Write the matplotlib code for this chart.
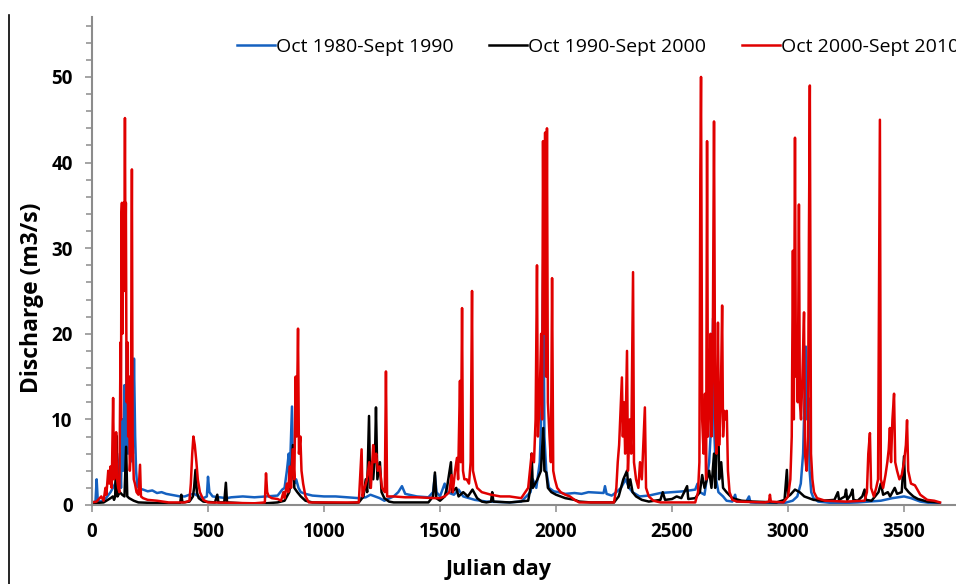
import matplotlib
matplotlib.use("Agg")
import matplotlib.pyplot as plt
import matplotlib.ticker as ticker
from matplotlib.lines import Line2D

# Daily discharge (day, m3/s) for each decade
blue_day = [0, 15, 20, 25, 40, 60, 80, 100, 110, 120, 125, 130, 135, 140, 145, 150, 155, 160, 165, 170,
            176, 181, 186, 190, 195, 205, 220, 240, 260, 280, 300, 320, 340, 360, 380, 400, 420, 440, 460,
            480, 495, 500, 506, 520, 550, 580, 600, 650, 700, 750, 800, 820, 830, 840, 848, 852, 862, 866,
            872, 880, 890, 900, 920, 950, 1000, 1050, 1100, 1150, 1180, 1200, 1220, 1240, 1260, 1300, 1320,
            1336, 1345, 1350, 1400, 1450, 1470, 1478, 1485, 1500, 1520, 1530, 1560, 1580, 1600, 1650, 1700,
            1800, 1850, 1890, 1900, 1915, 1930, 1938, 1945, 1950, 1958, 1970, 1990, 2010, 2040, 2080, 2110,
            2140, 2205, 2211, 2218, 2240, 2260, 2280, 2300, 2315, 2330, 2360, 2400, 2450, 2500, 2550, 2600,
            2610, 2620, 2640, 2660, 2670, 2677, 2683, 2690, 2700, 2720, 2735, 2760, 2772, 2778, 2820, 2832,
            2838, 2900, 2980, 3020, 3040, 3055, 3065, 3077, 3082, 3088, 3093, 3100, 3110, 3130, 3200, 3300,
            3400, 3450, 3500, 3530, 3570, 3620, 3655]
blue_q = [0.3, 0.4, 3.0, 0.5, 0.4, 0.8, 1.5, 2.5, 3.0, 6.0, 2.0, 10.0, 4.0, 14.0, 5.0, 19.0, 6.0, 12.0, 5.0, 10.0,
          6.0, 17.1, 8.0, 4.0, 2.2, 1.9, 1.8, 1.6, 1.7, 1.4, 1.5, 1.3, 1.2, 1.1, 1.0, 1.0, 1.2, 1.3, 1.0,
          0.8, 1.0, 3.3, 1.5, 1.0, 0.9, 0.8, 0.9, 1.0, 0.9, 1.0, 1.1, 1.8, 2.0, 4.0, 6.0, 3.0, 11.5, 4.0,
          2.5, 3.0, 2.0, 1.5, 1.3, 1.1, 1.0, 1.0, 0.9, 0.8, 0.9, 1.2, 1.0, 0.8, 0.5, 1.0, 1.5,
          2.2, 1.6, 1.3, 1.0, 0.9, 1.5, 3.5, 1.5, 1.0, 2.5, 1.5, 1.2, 1.8, 1.0, 0.6, 0.4,
          0.3, 0.4, 1.5, 3.0, 2.0, 5.0, 12.0, 29.0, 8.0, 4.0, 2.0, 1.6, 1.5, 1.3, 1.4, 1.3,
          1.5, 1.4, 2.2, 1.3, 1.1, 1.5, 2.0, 3.0, 2.0, 1.5, 1.0, 1.1, 1.4, 1.5, 1.6, 1.8,
          2.5, 1.5, 1.2, 5.0, 10.0, 21.8, 8.0, 3.0, 1.5, 1.0, 0.5, 0.4, 1.2, 0.4, 0.4, 1.0,
          0.3, 0.2, 0.2, 0.5, 1.0, 2.5, 6.0, 18.5, 10.0, 12.5, 4.0, 1.5, 0.8, 0.4, 0.2, 0.3,
          0.5, 0.8, 1.0, 0.8, 0.4, 0.2, 0.2]

black_day = [0, 50, 80, 90, 95, 100, 105, 110, 120, 130, 140, 147, 152, 160, 180, 200, 300, 380, 385, 390,
             420, 435, 440, 446, 452, 460, 480, 530, 540, 545, 570, 577, 582, 650, 750, 800, 830, 850, 858,
             866, 872, 885, 900, 920, 950, 1100, 1150, 1170, 1180, 1186, 1194, 1199, 1205, 1212, 1220, 1224,
             1230, 1241, 1248, 1260, 1280, 1300, 1450, 1470, 1478, 1484, 1500, 1520, 1530, 1547, 1552, 1570,
             1580, 1600, 1620, 1640, 1660, 1680, 1700, 1720, 1725, 1730, 1800, 1880, 1890, 1895, 1900, 1920,
             1935, 1945, 1950, 1958, 1965, 1980, 2000, 2020, 2040, 2060, 2080, 2100, 2150, 2250, 2270, 2290,
             2306, 2312, 2320, 2330, 2345, 2370, 2400, 2450, 2460, 2470, 2500, 2520, 2540, 2565, 2570, 2600,
             2620, 2630, 2640, 2660, 2670, 2681, 2686, 2698, 2703, 2712, 2720, 2735, 2760, 2800, 2850, 2950,
             2985, 2995, 3000, 3010, 3030, 3050, 3070, 3090, 3110, 3150, 3200, 3215, 3220, 3245, 3250, 3255,
             3270, 3278, 3282, 3300, 3320, 3330, 3335, 3360, 3390, 3400, 3410, 3430, 3440, 3460, 3470, 3490,
             3500, 3505, 3520, 3540, 3560, 3600, 3650]
black_q = [0.2, 0.3, 0.8, 1.0, 0.6, 1.0, 8.1, 1.0, 1.5, 1.2, 1.0, 6.8, 1.0, 0.8, 0.5, 0.3, 0.2, 0.2, 1.2, 0.3,
           0.4, 1.0, 2.0, 4.1, 1.5, 0.8, 0.4, 0.3, 1.2, 0.3, 0.3, 2.6, 0.3, 0.2, 0.2, 0.3, 0.5, 1.5, 3.0,
           7.0, 2.0, 1.5, 1.0, 0.5, 0.3, 0.2, 0.3, 1.0, 3.0, 1.5, 10.4, 2.0, 5.0, 3.0, 6.0, 11.4,
           3.0, 5.0, 1.5, 0.8, 0.4, 0.3, 0.3, 1.0, 3.8, 0.8, 0.5, 1.0, 2.0, 5.0, 1.5, 2.0,
           1.0, 1.5, 1.0, 1.8, 0.8, 0.4, 0.3, 0.4, 1.5, 0.4, 0.3, 0.5, 2.0, 6.0, 2.0, 3.0,
           4.0, 9.0, 4.0, 3.8, 2.0, 1.5, 1.2, 1.0, 0.8, 0.7, 0.6, 0.4, 0.3, 0.3, 1.0, 3.0,
           4.0, 2.0, 3.0, 1.5, 1.0, 0.6, 0.4, 0.6, 1.5, 0.6, 0.7, 1.0, 0.8, 2.2, 0.7, 0.8,
           1.5, 3.5, 2.0, 4.0, 2.0, 6.0, 2.0, 13.0, 3.0, 5.0, 2.0, 1.5, 0.8, 0.5, 0.4, 0.3,
           0.6, 4.1, 1.0, 1.2, 1.8, 1.5, 1.0, 0.8, 0.6, 0.5, 0.6, 1.5, 0.6, 1.0, 1.8, 0.6,
           1.2, 1.8, 0.6, 0.5, 1.0, 1.8, 0.6, 0.5, 1.5, 2.5, 1.2, 1.5, 1.0, 2.0, 1.3, 1.5,
           5.7, 2.0, 1.5, 1.0, 0.7, 0.4, 0.3]

red_day = [0, 20, 40, 50, 58, 62, 70, 75, 80, 85, 91, 95, 100, 104, 108, 113, 118, 123, 125, 127,
           129, 131, 133, 135, 137, 139, 142, 144, 146, 148, 150, 153, 156, 160, 163, 167, 172, 175, 180, 185,
           192, 200, 207, 211, 220, 240, 280, 330, 400, 420, 426, 432, 437, 443, 450, 456, 465, 480, 500,
           700, 745, 750, 755, 762, 775, 800, 815, 825, 830, 840, 846, 852, 858, 865, 872, 878, 882, 888,
           892, 898, 903, 910, 920, 935, 1150, 1162, 1166, 1175, 1185, 1195, 1202, 1212, 1218, 1225, 1232,
           1240, 1250, 1262, 1267, 1272, 1285, 1300, 1350, 1400, 1480, 1500, 1520, 1540, 1550, 1555, 1565,
           1573, 1578, 1586, 1590, 1595, 1599, 1605, 1615, 1625, 1632, 1638, 1642, 1650, 1660, 1680, 1720,
           1760, 1800, 1850, 1880, 1895, 1905, 1912, 1918, 1922, 1930, 1936, 1940, 1944, 1948, 1953, 1957,
           1961, 1965, 1972, 1978, 1983, 1988, 1995, 2005, 2020, 2040, 2060, 2080, 2100, 2250, 2260, 2266,
           2272, 2278, 2284, 2288, 2293, 2298, 2306, 2310, 2318, 2324, 2332, 2336, 2345, 2355, 2362, 2370,
           2383, 2388, 2400, 2420, 2450, 2600, 2612, 2618, 2622, 2625, 2630, 2636, 2642, 2647, 2651, 2655,
           2660, 2666, 2670, 2675, 2681, 2686, 2692, 2698, 2703, 2710, 2716, 2720, 2725, 2730, 2736, 2741,
           2748, 2760, 2780, 2900, 2918, 2922, 2926, 2980, 3000, 3010, 3016, 3021, 3025, 3030, 3034, 3039,
           3042, 3047, 3051, 3056, 3062, 3069, 3073, 3080, 3086, 3090, 3094, 3099, 3105, 3112, 3125, 3160,
           3250, 3330, 3340, 3346, 3353, 3358, 3370, 3380, 3388, 3396, 3400, 3410, 3420, 3428, 3434, 3439,
           3444, 3450, 3457, 3462, 3470, 3480, 3490, 3500, 3508, 3513, 3518, 3530, 3547, 3570, 3600, 3630,
           3655]
red_q = [0.3, 0.4, 1.0, 0.5, 2.0, 1.2, 4.0, 2.5, 4.5, 2.0, 12.5, 3.0, 4.0, 8.5, 3.0, 2.0, 1.5, 19.0, 10.0, 34.0,
         35.3, 20.0, 35.0, 30.0, 35.3, 25.0, 45.2, 30.0, 35.3, 20.0, 12.0, 19.0, 8.0, 15.0, 4.0, 6.0, 39.2, 8.0, 3.0, 2.5,
         1.5, 1.2, 4.7, 1.0, 0.8, 0.6, 0.5, 0.3, 0.3, 0.5, 2.5, 6.0, 8.0, 7.0, 5.0, 3.0, 1.5, 0.6, 0.3,
         0.2, 0.3, 3.7, 1.5, 1.0, 0.8, 0.7, 0.5, 1.5, 0.8, 2.5, 1.5, 4.5, 2.0, 6.5, 3.0, 15.0, 8.0, 20.6,
         6.0, 8.0, 4.0, 2.5, 1.0, 0.3, 0.3, 6.5, 1.0, 2.0, 3.0, 5.0, 2.0, 7.0, 5.0, 6.0, 4.0,
         4.5, 2.0, 1.5, 15.6, 1.0, 1.0, 1.0, 0.9, 0.9, 0.8, 0.8, 1.0, 1.5, 3.5, 1.5, 4.0,
         5.5, 3.0, 14.5, 5.0, 23.0, 4.0, 3.0, 3.0, 2.5, 5.0, 25.0, 4.0, 3.0, 2.0, 1.5, 1.2,
         1.0, 1.0, 0.8, 2.0, 6.0, 5.0, 10.0, 28.0, 8.0, 13.0, 20.0, 10.0, 42.5, 20.0, 43.5, 15.0,
         44.0, 12.0, 8.0, 5.0, 26.5, 4.0, 3.0, 2.0, 1.5, 1.2, 1.0, 0.6, 0.3, 0.3, 2.0, 5.0,
         7.0, 11.0, 14.9, 8.0, 12.0, 6.0, 18.0, 4.0, 10.0, 6.0, 27.2, 5.0, 3.0, 2.0, 5.0, 3.0,
         11.4, 2.0, 1.0, 0.5, 0.3, 0.3, 1.5, 5.0, 38.5, 50.0, 10.0, 6.0, 13.0, 3.0, 42.5, 8.0,
         12.0, 20.0, 8.0, 15.0, 44.8, 10.0, 6.0, 21.3, 7.0, 12.0, 23.3, 8.0, 11.0, 10.0, 11.0, 4.0,
         1.5, 0.6, 0.4, 0.3, 0.4, 1.2, 0.4, 0.3, 1.0, 3.0, 8.0, 29.7, 10.0, 42.9, 15.0, 20.0,
         12.0, 35.1, 12.0, 10.0, 15.0, 22.5, 6.0, 4.0, 8.0, 31.0, 49.0, 6.0, 3.0, 1.5, 0.8, 0.5,
         0.4, 0.5, 1.5, 6.0, 8.4, 2.0, 1.0, 2.0, 3.0, 45.0, 3.0, 2.0, 3.5, 5.0, 6.5, 9.0,
         5.0, 10.0, 13.0, 5.0, 4.0, 3.0, 3.5, 5.0, 7.0, 9.9, 4.0, 2.5, 2.3, 1.2, 0.6, 0.5,
         0.3]

labels = ['Oct 1980-Sept 1990', 'Oct 1990-Sept 2000', 'Oct 2000-Sept 2010']
colors = ['#1561c0', '#000000', '#e00000']

fig = plt.figure(figsize=(9.56, 5.84), dpi=100)
ax = fig.add_axes([92 / 956, 79 / 584, 1 - 92 / 956, 488 / 584])

ax.plot(blue_day, blue_q, color=colors[0], lw=1.8, label=labels[0])
ax.plot(black_day, black_q, color=colors[1], lw=1.8, label=labels[1])
ax.plot(red_day, red_q, color=colors[2], lw=1.8, label=labels[2])

ax.set_xlim(0, 3724)
ax.set_ylim(0, 57)
ax.xaxis.set_major_locator(ticker.MultipleLocator(500))
ax.yaxis.set_major_locator(ticker.MultipleLocator(10))
ax.yaxis.set_minor_locator(ticker.MultipleLocator(2))

for side in ['top', 'right']:
    ax.spines[side].set_visible(False)
for side in ['left', 'bottom']:
    ax.spines[side].set_color('#8c8c8c')
    ax.spines[side].set_linewidth(1.5)

ax.tick_params(which='major', direction='out', length=5, width=1.1, color='#8c8c8c')
ax.tick_params(which='minor', direction='out', length=4, width=1.1, color='#8c8c8c')
ax.tick_params(axis='y', pad=9)
ax.tick_params(axis='x', pad=7)
for lab in ax.get_xticklabels() + ax.get_yticklabels():
    lab.set_fontfamily('Open Sans')
    lab.set_fontweight('bold')
    lab.set_fontsize(13.5)

fig.text(32 / 956, 1 - 298 / 584, 'Discharge (m3/s)', rotation=90, ha='center', va='center',
         family='Open Sans', weight='bold', fontsize=16.5)
fig.text(499 / 956, 1 - 570 / 584, 'Julian day', ha='center', va='center',
         family='Open Sans', weight='bold', fontsize=15.5)

# legend runs off the right edge, as in the original crop
ax.legend(loc='center left', bbox_to_anchor=(237 / 956, 1 - 47 / 584), bbox_transform=fig.transFigure,
          ncol=3, frameon=False, borderpad=0, borderaxespad=0, handlelength=1.95, handletextpad=0.05,
          columnspacing=1.85, prop={'family': 'Open Sans', 'size': 14})

# frame edge left over from the original page
fig.add_artist(Line2D([9 / 956, 9 / 956], [0, 1 - 15 / 584], color='black', lw=1.2))

fig.savefig('out.png', dpi=100)
